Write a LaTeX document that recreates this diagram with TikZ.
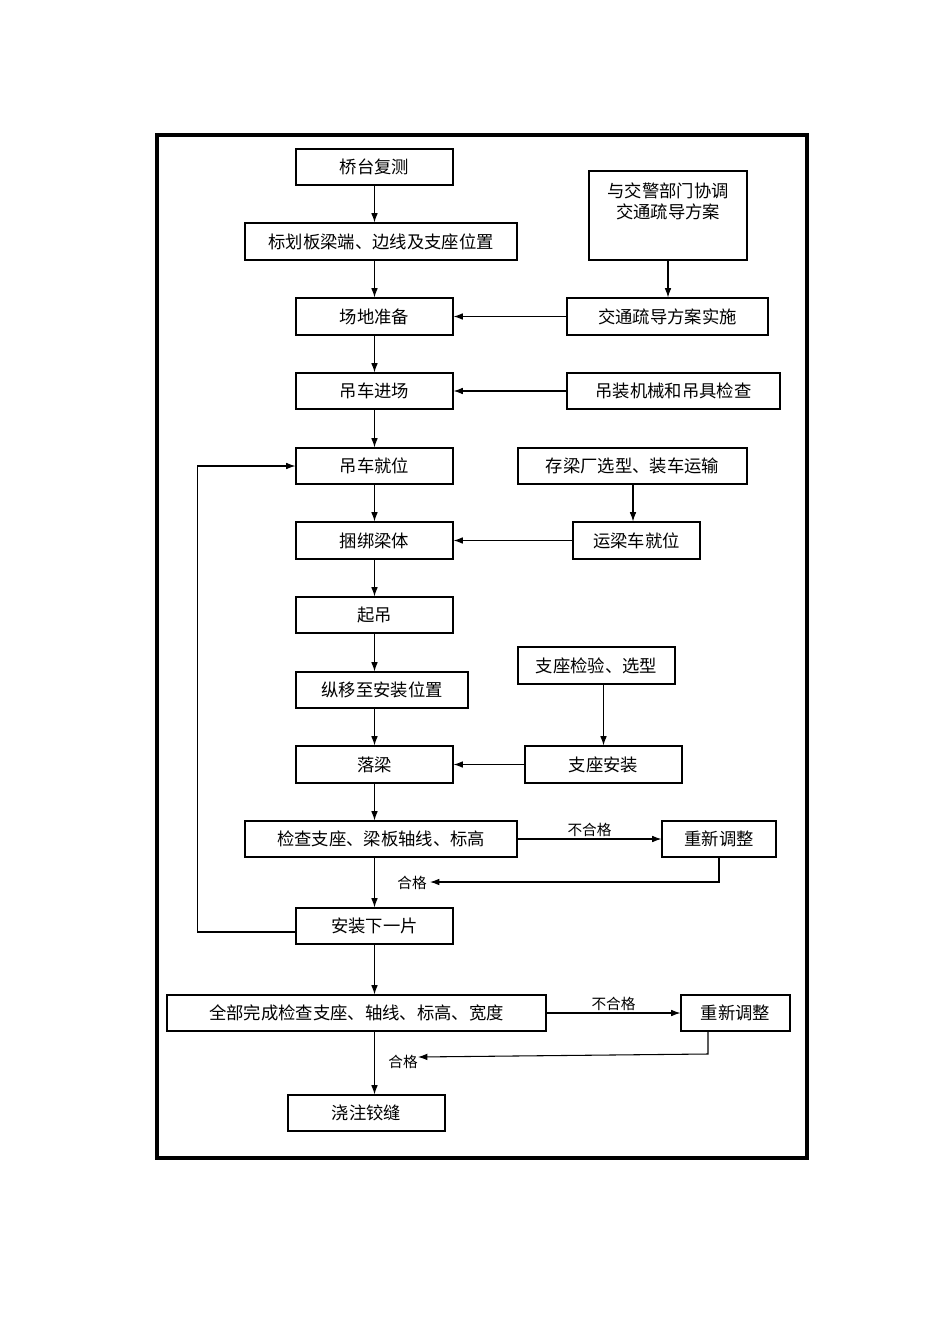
\documentclass[tikz,border=0pt]{standalone}
\usepackage{fontspec}
\setmainfont{Noto Sans CJK SC}
\usetikzlibrary{arrows.meta}
\begin{document}
\begin{tikzpicture}[x=0.75pt,y=-0.75pt,
  box/.style={draw,line width=0.8pt,inner sep=0pt,font=\fontsize{13}{15}\selectfont},
  arr/.style={-{Latex[length=7pt,width=5pt]},line width=0.8pt},
  lab/.style={font=\fontsize{11}{13}\selectfont,inner sep=1pt}]
\useasboundingbox (0,0) rectangle (950,1344);
\draw[line width=3.2pt] (157,135) rectangle (807,1158);
\newcommand\bx[6]{\node[box,minimum width={(#4-#2)*0.75pt},minimum height={(#5-#3)*0.75pt}] (#1) at ({(#2+#4)/2},{(#3+#5)/2}) {#6};}
\bx{a1}{296}{149}{453}{185}{桥台复测}
\bx{a2}{245}{223}{517}{260}{标划板梁端、边线及支座位置}
\bx{a3}{296}{298}{453}{335}{场地准备}
\bx{a4}{296}{373}{453}{409}{吊车进场}
\bx{a5}{296}{448}{453}{484}{吊车就位}
\bx{a6}{296}{522}{453}{559}{捆绑梁体}
\bx{a7}{296}{597}{453}{633}{起吊}
\bx{a8}{296}{672}{468}{708}{纵移至安装位置}
\bx{a9}{296}{746}{453}{783}{落梁}
\bx{a10}{245}{821}{517}{857}{检查支座、梁板轴线、标高}
\bx{a11}{296}{908}{453}{944}{安装下一片}
\bx{a12}{167}{995}{546}{1031}{全部完成检查支座、轴线、标高、宽度}
\bx{a13}{288}{1095}{445}{1131}{浇注铰缝}
\bx{b1}{589}{171}{747}{260}{}
\node[font=\fontsize{13}{16}\selectfont,align=center,anchor=north] (b1t) at (668,178) {与交警部门协调\\交通疏导方案};
\bx{b2}{567}{298}{768}{335}{交通疏导方案实施}
\bx{b3}{567}{373}{780}{409}{吊装机械和吊具检查}
\bx{b4}{518}{448}{747}{484}{存梁厂选型、装车运输}
\bx{b5}{573}{522}{700}{559}{运梁车就位}
\bx{b6}{518}{647}{675}{684}{支座检验、选型}
\bx{b7}{525}{746}{682}{783}{支座安装}
\bx{c1}{662}{821}{776}{857}{重新调整}
\bx{c2}{681}{995}{790}{1031}{重新调整}
\foreach \p/\q in {a1/a2,a2/a3,a3/a4,a4/a5,a5/a6,a6/a7,a7/a8,a9/a10,a10/a11,a11/a12,a12/a13}
  \draw[arr] (\p.south -| a1.south) -- (\q.north -| a1.south);
\draw[arr] (a8.south -| a1.south) -- (a9.north);
\draw[arr] (b1.south) -- (b2.north -| b1.south);
\draw[arr] (b2.west) -- (a3.east);
\draw[arr] (b3.west) -- (a4.east);
\draw[arr] (b4.south -| 633,0) -- (b5.north -| 633,0);
\draw[arr] (b5.west) -- (a6.east);
\draw[arr] (b6.south -| b7.north) -- (b7.north);
\draw[arr] (b7.west) -- (a9.east);
\draw[arr] (a10.east) -- node[lab,above] {不合格} (c1.west);
\draw[arr] (a12.east) -- node[lab,above] {不合格} (c2.west);
\coordinate (f1) at (430,882);
\coordinate (f2) at (418,1057);
\draw[arr] (c1.south -| 719,0) |- (f1);
\draw[arr] (c2.south -| 708,0) -- (708,1054) -- (f2);
\node[lab] (h1) at (412,883) {合格};
\node[lab] (h2) at (403,1062) {合格};
\draw[arr] ([yshift=-4.5pt]a11.west) -- ++(-98,0) |- (a5.west);
\end{tikzpicture}
\end{document}
